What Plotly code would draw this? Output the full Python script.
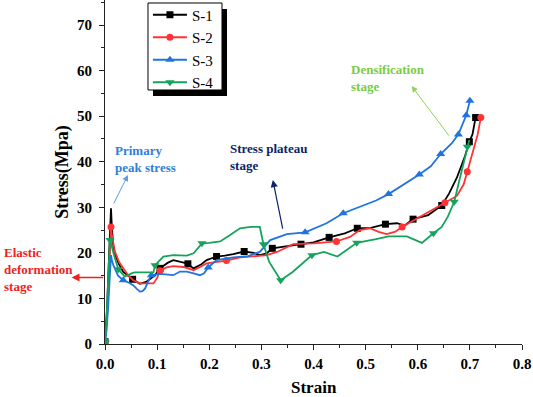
import plotly.graph_objects as go

# ---------------- data ----------------
s1_x = [0, 0.004, 0.008, 0.0105, 0.0115, 0.013, 0.016, 0.02, 0.026, 0.035, 0.045, 0.053, 0.067, 0.08, 0.096,
        0.1055, 0.12, 0.131, 0.145, 0.157, 0.17, 0.185, 0.195, 0.214, 0.23, 0.246, 0.267, 0.285, 0.297, 0.31,
        0.321, 0.35, 0.376, 0.40, 0.43, 0.46, 0.484, 0.51, 0.538, 0.56, 0.575, 0.591, 0.62, 0.646, 0.66, 0.675,
        0.69, 0.699, 0.705, 0.711]
s1_y = [0.5, 8, 20, 27, 29.8, 26, 21.3, 19.5, 17.7, 15.8, 14.8, 14.2, 13.2, 13.7, 15.1,
        16.6, 17.8, 18.4, 18.0, 17.7, 16.6, 17.5, 18.4, 19.2, 19.4, 19.7, 20.3, 20.0, 19.5, 19.9,
        21.0, 21.4, 21.9, 22.3, 23.4, 24.3, 25.4, 25.5, 26.3, 26.5, 26.0, 27.4, 28.3, 30.4, 33, 36.5,
        41, 44.4, 46, 49.7]
s1_mx = [0, 0.053, 0.1055, 0.159, 0.214, 0.267, 0.321, 0.376, 0.43, 0.484, 0.538, 0.591, 0.646, 0.699, 0.711]
s1_my = [0.5, 14.2, 16.6, 17.6, 19.2, 20.3, 21.0, 21.9, 23.4, 25.4, 26.3, 27.4, 30.4, 44.4, 49.7]

s2_x = [0, 0.004, 0.008, 0.0105, 0.0115, 0.013, 0.019, 0.027, 0.035, 0.045, 0.054, 0.067, 0.08, 0.093, 0.1,
        0.1055, 0.118, 0.131, 0.15, 0.17, 0.195, 0.214, 0.233, 0.259, 0.285, 0.31, 0.33, 0.361, 0.40, 0.444,
        0.47, 0.489, 0.508, 0.525, 0.54, 0.556, 0.57, 0.604, 0.63, 0.652, 0.675, 0.688, 0.695, 0.707, 0.715, 0.721]
s2_y = [0.5, 6, 16, 23, 25.7, 24, 20.3, 18.0, 16.6, 15.0, 14.0, 13.3, 13.3, 13.3, 14.5,
        16.1, 16.8, 17.1, 16.9, 16.2, 17.7, 18.0, 18.3, 19.0, 19.3, 19.5, 20.2, 21.9, 22.1, 22.5,
        23.5, 25.0, 25.4, 24.6, 24.1, 24.6, 25.7, 27.9, 29.4, 31.0, 32.5, 35, 37.8, 42.6, 46, 49.7]
s2_mx = [0, 0.0115, 0.1055, 0.233, 0.444, 0.57, 0.652, 0.695, 0.721]
s2_my = [0.5, 25.7, 16.1, 18.3, 22.5, 25.7, 31.0, 37.8, 49.7]

s3_x = [0, 0.003, 0.006, 0.009, 0.0115, 0.013, 0.016, 0.025, 0.035, 0.045, 0.054, 0.062, 0.067, 0.072, 0.077,
        0.083, 0.089, 0.1055, 0.131, 0.144, 0.157, 0.17, 0.182, 0.19, 0.198, 0.214, 0.246, 0.275, 0.297, 0.317,
        0.349, 0.384, 0.425, 0.457, 0.489, 0.52, 0.544, 0.572, 0.603, 0.625, 0.644, 0.665, 0.678, 0.693, 0.700]
s3_y = [0.9, 3, 8, 15, 19.5, 18.5, 17.3, 15.0, 14.0, 13.5, 12.9, 12.0, 11.5, 11.6, 12.2,
        13.8, 15.1, 15.4, 15.1, 15.9, 15.9, 15.5, 15.1, 15.5, 16.8, 18.4, 19.0, 19.3, 20.2, 22.8,
        24.1, 24.5, 26.5, 28.7, 30.1, 31.5, 32.9, 34.9, 37.2, 39.0, 41.7, 44.0, 46.0, 50.2, 53.4]
s3_mx = [0, 0.035, 0.089, 0.198, 0.384, 0.457, 0.544, 0.603, 0.644, 0.678, 0.693, 0.700]
s3_my = [0.9, 14.0, 15.1, 16.8, 24.5, 28.7, 32.9, 37.2, 41.7, 46.0, 50.2, 53.4]

s4_x = [0, 0.003, 0.006, 0.0096, 0.012, 0.016, 0.0256, 0.038, 0.051, 0.057, 0.075, 0.093, 0.096, 0.105, 0.112,
        0.131, 0.157, 0.17, 0.186, 0.2, 0.221, 0.24, 0.259, 0.28, 0.297, 0.304, 0.315, 0.337, 0.36, 0.397,
        0.42, 0.446, 0.483, 0.52, 0.544, 0.579, 0.608, 0.63, 0.646, 0.658, 0.67, 0.68, 0.695, 0.699]
s4_y = [0.5, 5, 14, 22.8, 22, 20, 16.4, 14.8, 15.5, 15.7, 15.7, 15.7, 17.3, 18.5, 19.2,
        19.5, 19.4, 19.9, 22.1, 22.2, 22.5, 23.9, 25.4, 25.7, 25.7, 21.9, 18, 14.0, 15.8, 19.5,
        20.2, 19.2, 22.2, 23.0, 23.6, 23.6, 22.2, 24.3, 25.7, 28, 31.2, 36, 43.3, 44.8]
s4_mx = [0, 0.0096, 0.0256, 0.096, 0.186, 0.304, 0.337, 0.397, 0.483, 0.63, 0.67, 0.695]
s4_my = [0.5, 22.8, 16.4, 17.3, 22.1, 21.9, 14.0, 19.5, 22.2, 24.3, 31.2, 43.3]

series_names = ["S-1", "S-2", "S-3", "S-4"]
x_ticks = [0, 0.1, 0.2, 0.3, 0.4, 0.5, 0.6, 0.7, 0.8]
y_ticks = [0, 10, 20, 30, 40, 50, 60, 70]

# ---------------- styling ----------------
colors = ["#000000", "#ff3333", "#1f74e0", "#15a35b"]
symbols = ["square", "circle", "triangle-up", "triangle-down"]
msizes = [7, 7, 8, 8]
SERIF = "serif"

fig = go.Figure()
data = [(s1_x, s1_y, s1_mx, s1_my), (s2_x, s2_y, s2_mx, s2_my),
        (s3_x, s3_y, s3_mx, s3_my), (s4_x, s4_y, s4_mx, s4_my)]
for i, (lx, ly, mx, my) in enumerate(data):
    fig.add_trace(go.Scatter(x=lx, y=ly, mode="lines", line=dict(color=colors[i], width=1.8),
                             showlegend=False, legendgroup=series_names[i], hoverinfo="skip"))
    fig.add_trace(go.Scatter(x=mx, y=my, mode="markers",
                             marker=dict(color=colors[i], symbol=symbols[i], size=msizes[i]),
                             showlegend=False, legendgroup=series_names[i]))
for i in range(4):
    fig.add_trace(go.Scatter(x=[None], y=[None], mode="lines+markers", name=series_names[i],
                             line=dict(color=colors[i], width=1.8),
                             marker=dict(color=colors[i], symbol=symbols[i], size=msizes[i]),
                             legendgroup=series_names[i]))

tickfont = dict(family=SERIF, size=15, color="black", weight="bold")
fig.update_xaxes(range=[0, 0.8], tickvals=x_ticks, tickformat=".1f", showline=True, linecolor="#222",
                 linewidth=1, ticks="outside", ticklen=5, tickcolor="#222", showgrid=False, zeroline=False,
                 minor=dict(ticks="outside", ticklen=3, dtick=0.05, tickcolor="#222"),
                 tickfont=tickfont, ticklabelstandoff=1, automargin=False)
fig.update_yaxes(range=[0, 75.5], tickvals=y_ticks, showline=True, linecolor="#222",
                 linewidth=1, ticks="outside", ticklen=5, tickcolor="#222", showgrid=False, zeroline=False,
                 minor=dict(ticks="outside", ticklen=3, dtick=5, tickcolor="#222"),
                 tickfont=tickfont, ticklabelstandoff=4, automargin=False,
                 title=dict(text="Stress(Mpa)", font=dict(family=SERIF, size=18, color="black", weight="bold"),
                            standoff=3))

ann_font = lambda c: dict(family=SERIF, size=13, color=c, weight="bold")
annotations = [
    dict(x=0.5, y=-0.1279, xref="paper", yref="paper", text="Strain", showarrow=False,
         xanchor="center", yanchor="middle",
         font=dict(family=SERIF, size=17, color="black", weight="bold")),
    dict(x=0.0153, y=40.7, xref="x", yref="y", text="Primary<br>peak stress", showarrow=False,
         xanchor="left", yanchor="middle", align="left", font=ann_font("#2f7fd8")),
    dict(x=0.236, y=41.0, xref="x", yref="y", text="Stress plateau<br>stage", showarrow=False,
         xanchor="left", yanchor="middle", align="left", font=ann_font("#0c2466")),
    dict(x=0.468, y=58.3, xref="x", yref="y", text="Densification<br>stage", showarrow=False,
         xanchor="left", yanchor="middle", align="left", font=ann_font("#78cc45")),
    dict(x=-0.247, y=16.35, xref="paper", yref="y", text="Elastic<br>deformation<br>stage", showarrow=False,
         xanchor="left", yanchor="middle", align="left", font=ann_font("#f01e1e")),
    # arrows
    dict(x=0.0441, y=37.1, ax=0.0153, ay=30.5, xref="x", yref="y", axref="x", ayref="y", text="",
         showarrow=True, arrowhead=2, arrowsize=1.2, arrowwidth=1, arrowcolor="#5d9de2"),
    dict(x=0.322, y=36.0, ax=0.3415, ay=25.0, xref="x", yref="y", axref="x", ayref="y", text="",
         showarrow=True, arrowhead=2, arrowsize=1.2, arrowwidth=1.2, arrowcolor="#0c2466"),
    dict(x=0.5884, y=56.6, ax=0.662, ay=45.4, xref="x", yref="y", axref="x", ayref="y", text="",
         showarrow=True, arrowhead=2, arrowsize=1.2, arrowwidth=1, arrowcolor="#8fd35a"),
    dict(x=-0.0799, y=14.6, xref="paper", yref="y", ax=33, ay=0, text="",
         showarrow=True, arrowhead=2, arrowsize=1.2, arrowwidth=1.3, arrowcolor="#f01e1e"),
]

# legend frame and its drop shadow
shapes = [
    dict(type="rect", xref="paper", yref="paper", x0=0.1151, x1=0.2926, y0=0.7209, y1=0.9738,
         fillcolor="black", line=dict(width=0), layer="above"),
    dict(type="rect", xref="paper", yref="paper", x0=0.1031, x1=0.2806, y0=0.7384, y1=0.9913,
         fillcolor="white", line=dict(color="black", width=1), layer="above"),
]

fig.update_layout(
    width=533, height=397,
    margin=dict(l=105, r=11, t=0, b=53, autoexpand=False),
    paper_bgcolor="white", plot_bgcolor="white",
    annotations=annotations, shapes=shapes,
    legend=dict(x=0.103, y=1.0044, xanchor="left", yanchor="top", bgcolor="rgba(0,0,0,0)",
                borderwidth=0, itemwidth=34,
                font=dict(family=SERIF, size=15, color="black"), tracegroupgap=0),
    showlegend=True,
)

fig.write_html("out.html", config={"displayModeBar": False},
               post_script="document.body.style.margin='0';document.body.style.padding='0';")
